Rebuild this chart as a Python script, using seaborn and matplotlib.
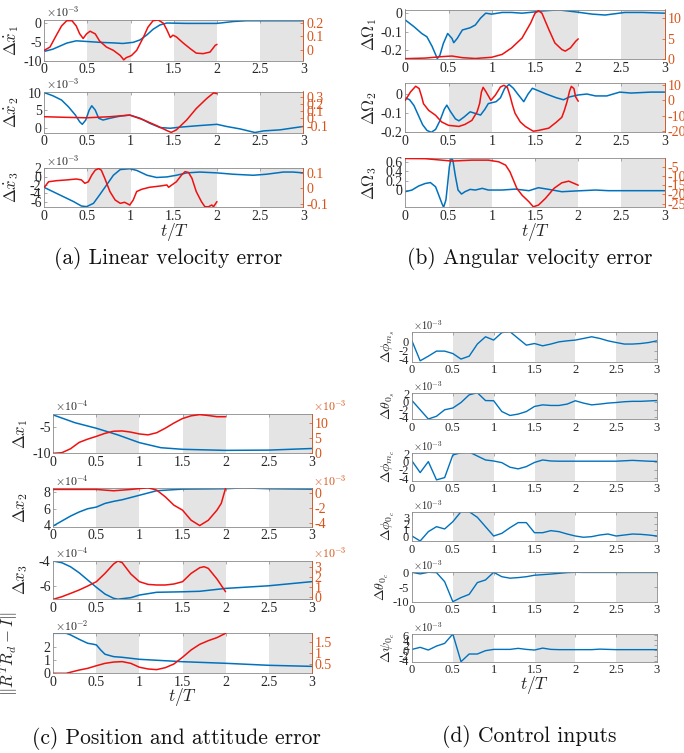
import numpy as np
import pandas as pd
import matplotlib
matplotlib.use("Agg")
import matplotlib.pyplot as plt
import seaborn as sns

# ---------------- data ----------------
XTICKS = [0, 0.5, 1, 1.5, 2, 2.5, 3]
XTICKLABELS = ["0", "0.5", "1", "1.5", "2", "2.5", "3"]
SHADED = [(0.5, 1.0), (1.5, 2.0), (2.5, 3.0)]

# (a) linear velocity error  (left: x1e-3, right: plain)
A1_BT = [0, 0.10, 0.2, 0.26, 0.37, 0.51, 0.64, 0.80, 0.91, 1.03, 1.11, 1.19, 1.26, 1.34, 1.42, 1.65, 2.0, 2.19, 2.34, 2.6, 3.0]
A1_B = [-7.6, -7.0, -6.0, -5.4, -4.8, -5.0, -5.2, -5.35, -5.5, -5.2, -4.55, -3.2, -1.75, -0.6, -0.1, -0.2, -0.2, 0.3, 0.5, 0.5, 0.5]
A1_RT = [0, 0.066, 0.14, 0.2, 0.26, 0.32, 0.37, 0.41, 0.45, 0.49, 0.53, 0.59, 0.64, 0.72, 0.80, 0.88, 0.92, 0.95, 0.99,
         1.01, 1.07, 1.15, 1.2, 1.26, 1.32, 1.38, 1.42, 1.46, 1.49, 1.53, 1.61, 1.69, 1.76, 1.84, 1.92, 1.98, 2.0]
A1_R = [-0.005, 0.02, 0.11, 0.18, 0.22, 0.22, 0.18, 0.12, 0.085, 0.12, 0.14, 0.12, 0.066, 0.02, -0.005, -0.044, -0.077, -0.06, -0.05,
        -0.044, -0.005, 0.097, 0.17, 0.22, 0.225, 0.2, 0.15, 0.092, 0.11, 0.097, 0.05, 0.008, -0.026, -0.03, -0.018, 0.033, 0.04]

A2_BT = [0, 0.1, 0.2, 0.28, 0.36, 0.41, 0.44, 0.48, 0.52, 0.55, 0.59, 0.63, 0.68, 0.76, 0.88, 0.99, 1.11, 1.22, 1.34, 1.46,
         1.57, 1.8, 2.0, 2.11, 2.27, 2.44, 2.54, 2.73, 3.0]
A2_B = [10.0, 9.1, 7.9, 6.0, 3.7, 1.8, 1.1, 2.3, 5.1, 6.3, 5.1, 2.8, 2.3, 2.8, 3.4, 3.7, 2.8, 1.4, 0.2, 0.0,
        0.3, 0.75, 1.1, 0.5, -0.2, -1.2, -0.75, -0.45, 0.5]
A2_RT = [0, 0.26, 0.49, 0.76, 0.99, 1.15, 1.3, 1.42, 1.47, 1.53, 1.65, 1.76, 1.88, 1.96, 2.0]
A2_R = [0.025, 0.016, 0.01, 0.025, 0.048, -0.02, -0.1, -0.17, -0.196, -0.16, -0.02, 0.14, 0.28, 0.36, 0.35]

A3_BT = [0, 0.1, 0.22, 0.34, 0.43, 0.49, 0.57, 0.64, 0.72, 0.8, 0.88, 0.99, 1.07, 1.19, 1.3, 1.42, 1.53, 1.65, 1.8, 2.0,
         2.19, 2.42, 2.57, 2.77, 2.88, 3.0]
A3_B = [-2.6, -3.6, -4.8, -6.0, -7.05, -7.2, -6.4, -4.4, -2.05, 0.33, 1.7, 1.9, 1.5, 0.33, -0.2, -0.07, 0.33, 0.9, 1.1, 0.9,
        0.57, 0.33, 0.57, 1.1, 1.1, 0.9]
A3_RT = [0, 0.05, 0.14, 0.26, 0.37, 0.43, 0.47, 0.51, 0.55, 0.59, 0.63, 0.66, 0.7, 0.76, 0.82, 0.88, 0.93, 0.99, 1.03, 1.07,
         1.13, 1.22, 1.34, 1.42, 1.44, 1.47, 1.53, 1.59, 1.63, 1.67, 1.71, 1.76, 1.82, 1.86, 1.9, 1.94, 1.96, 2.0]
A3_R = [0.008, 0.044, 0.051, 0.056, 0.062, 0.056, 0.034, 0.044, 0.088, 0.12, 0.13, 0.12, 0.067, -0.02, -0.075, -0.097, -0.09, -0.108, -0.075, -0.02,
        -0.005, 0.008, 0.016, 0.023, 0.008, 0.02, 0.044, 0.088, 0.11, 0.105, 0.067, -0.02, -0.086, -0.119, -0.12, -0.108, -0.119, -0.086]

# (b) angular velocity error
B1_BT = [0, 0.1, 0.19, 0.25, 0.31, 0.37, 0.4, 0.44, 0.49, 0.54, 0.56, 0.6, 0.66, 0.75, 0.81, 0.87, 0.93, 1.0, 1.12, 1.23,
         1.35, 1.46, 1.58, 1.77, 1.97, 2.16, 2.31, 2.54, 2.74, 3.0]
B1_B = [-0.037, -0.073, -0.11, -0.128, -0.18, -0.246, -0.228, -0.164, -0.11, -0.137, -0.16, -0.137, -0.091, -0.079, -0.064, -0.027, 0.0, -0.005, 0.004, 0.004,
        0.0, 0.005, 0.012, 0.018, 0.007, -0.005, -0.01, 0.004, 0.004, 0.0]
B1_RT = [0, 0.23, 0.42, 0.54, 0.66, 0.81, 1.0, 1.12, 1.23, 1.35, 1.45, 1.5, 1.54, 1.58, 1.66, 1.73, 1.81, 1.85, 1.91, 1.97, 2.0]
B1_R = [0.16, 0.3, 0.65, 0.8, 0.4, 0.2, 0.5, 1.2, 2.8, 5.2, 8.9, 11.3, 11.9, 11.3, 7.3, 4.0, 2.4, 2.0, 2.8, 4.4, 5.0]

B2_BT = [0, 0.05, 0.1, 0.15, 0.2, 0.25, 0.3, 0.35, 0.4, 0.45, 0.48, 0.52, 0.58, 0.62, 0.68, 0.75, 0.8, 0.87, 0.92, 0.96,
         1.05, 1.1, 1.15, 1.2, 1.25, 1.3, 1.37, 1.42, 1.47, 1.55, 1.63, 1.75, 1.83, 1.9, 2.0, 2.1, 2.2, 2.33, 2.48, 2.61,
         2.75, 2.84, 3.0]
B2_B = [-0.02, -0.03, -0.06, -0.11, -0.16, -0.19, -0.2, -0.185, -0.14, -0.08, -0.058, -0.09, -0.13, -0.14, -0.12, -0.093, -0.1, -0.11, -0.08, -0.05,
        -0.04, -0.02, 0.03, 0.05, 0.03, 0.0, -0.04, 0.0, 0.03, 0.015, 0.0, -0.02, -0.03, -0.015, -0.005, 0.0, -0.01, -0.01, 0.01, 0.005,
        0.008, 0.01, 0.01]
B2_RT = [0, 0.06, 0.12, 0.16, 0.19, 0.21, 0.27, 0.35, 0.42, 0.5, 0.62, 0.69, 0.77, 0.83, 0.86, 0.88, 0.9, 0.93, 0.99, 1.04,
         1.1, 1.14, 1.18, 1.21, 1.24, 1.27, 1.33, 1.39, 1.48, 1.54, 1.66, 1.75, 1.81, 1.84, 1.87, 1.9, 1.92, 1.95, 1.97, 2.0]
B2_R = [0, 5.4, 9.1, 7.6, 2.2, -2.2, -6.5, -9.7, -14, -16.2, -16.9, -15.6, -13, -7.5, -2, 5.3, 8.4, 5.8, 0, 3.2,
        8.6, 9.7, 8.4, 3.2, -3.2, -8.5, -14, -17, -20, -19.5, -18, -14, -11, -6.5, -1, 6.0, 9.0, 7.6, 2.2, -0.6]

B3_BT = [0, 0.077, 0.154, 0.23, 0.29, 0.35, 0.385, 0.424, 0.443, 0.47, 0.49, 0.51, 0.53, 0.55, 0.58, 0.61, 0.65, 0.69, 0.75, 0.81,
         0.89, 0.96, 1.12, 1.27, 1.43, 1.54, 1.66, 1.81, 1.97, 2.2, 2.35, 2.54, 3.0]
B3_B = [-0.036, 0.0, 0.086, 0.14, 0.16, 0.07, -0.1, -0.29, -0.37, -0.21, 0.14, 0.5, 0.68, 0.64, 0.29, 0.0, -0.086, -0.036, 0.014, 0.0,
        0.036, 0.0, 0.0, 0.02, -0.014, 0.05, 0.014, -0.036, -0.02, 0.0, -0.014, -0.014, -0.014]
B3_RT = [0, 0.23, 0.42, 0.54, 0.77, 0.96, 1.08, 1.16, 1.21, 1.25, 1.29, 1.35, 1.43, 1.48, 1.54, 1.62, 1.72, 1.81, 1.89, 1.95, 2.0]
B3_R = [-0.5, -0.6, -1.4, -1.9, -1.4, -1.4, -2.3, -4.1, -7.7, -12.2, -16.7, -20.4, -24, -26.7, -25.8, -22.2, -16.7, -13.7, -12.8, -14, -15]

# (c) position and attitude error
C1_BT = [0, 0.25, 0.5, 0.75, 1.0, 1.25, 1.5, 2.0, 2.5, 3.0]
C1_B = [-2.8, -4.25, -5.3, -6.55, -8.0, -8.95, -9.25, -9.45, -9.4, -9.1]
C1_RT = [0, 0.1, 0.2, 0.3, 0.4, 0.5, 0.6, 0.7, 0.8, 0.9, 1.0, 1.1, 1.2, 1.3, 1.4, 1.5, 1.6, 1.7, 1.8, 1.9, 2.0]
C1_R = [0, 0.2, 1.5, 3.6, 4.7, 5.6, 6.6, 7.3, 7.4, 7.0, 6.4, 6.1, 6.8, 8.3, 10.0, 11.5, 12.4, 12.8, 12.5, 12.1, 12.1]

C2_BT = [0, 0.1, 0.2, 0.3, 0.4, 0.5, 0.6, 0.7, 0.8, 1.0, 1.2, 1.5, 2.0, 2.2, 2.5, 3.0]
C2_B = [3.9, 4.5, 5.1, 5.6, 6.0, 6.2, 6.65, 6.9, 7.1, 7.65, 8.2, 8.4, 8.45, 8.55, 8.45, 8.4]
C2_RT = [0, 0.5, 0.7, 0.9, 1.1, 1.2, 1.3, 1.4, 1.5, 1.6, 1.7, 1.8, 1.9, 1.95, 2.0]
C2_R = [0.45, 0.45, 0.27, 0.45, 0.67, 0.36, -0.53, -1.64, -2.3, -3.64, -4.35, -3.64, -2.3, -1.4, 0.6]

C3_BT = [0, 0.1, 0.2, 0.3, 0.4, 0.5, 0.6, 0.7, 0.75, 0.9, 1.0, 1.2, 1.5, 1.7, 2.0, 2.5, 3.0]
C3_B = [-4.0, -4.14, -4.46, -4.94, -5.52, -6.1, -6.64, -6.98, -7.05, -6.93, -6.72, -6.5, -6.46, -6.42, -6.19, -5.98, -5.65]
C3_RT = [0, 0.1, 0.2, 0.3, 0.4, 0.5, 0.6, 0.7, 0.75, 0.8, 0.9, 1.0, 1.1, 1.2, 1.3, 1.4, 1.5, 1.6, 1.7, 1.75, 1.8, 1.9, 2.0]
C3_R = [-0.26, 0, 0.33, 0.67, 1.07, 1.5, 2.33, 3.27, 3.57, 3.4, 2.27, 1.5, 1.23, 1.17, 1.17, 1.27, 1.5, 2.33, 2.9, 3.0, 2.83, 1.77, 0.5]

C4_BT = [0, 0.15, 0.2, 0.3, 0.4, 0.45, 0.5, 0.55, 0.6, 0.7, 0.8, 1.0, 1.5, 2.0, 2.5, 3.0]
C4_B = [3.0, 3.0, 2.88, 2.55, 2.25, 2.2, 2.13, 1.75, 1.43, 1.25, 1.2, 1.05, 0.87, 0.75, 0.6, 0.52]
C4_RT = [0, 0.15, 0.3, 0.4, 0.5, 0.6, 0.7, 0.8, 0.9, 1.0, 1.1, 1.2, 1.3, 1.4, 1.5, 1.6, 1.7, 1.8, 1.9, 2.0]
C4_R = [0.07, 0.07, 0.22, 0.3, 0.42, 0.53, 0.59, 0.61, 0.53, 0.35, 0.27, 0.24, 0.33, 0.5, 0.81, 1.15, 1.41, 1.58, 1.72, 1.92]

# (d) control inputs (x1e-3), sampled every 0.1
D_T = [0.0, 0.1, 0.2, 0.3, 0.4, 0.5, 0.6, 0.7, 0.8, 0.9, 1.0, 1.1, 1.2, 1.3, 1.4, 1.5,
       1.6, 1.7, 1.8, 1.9, 2.0, 2.1, 2.2, 2.3, 2.4, 2.5, 2.6, 2.7, 2.8, 2.9, 3.0]
D1 = [0.2, -4.3, -3.25, -2.1, -2.1, -2.65, -3.9, -3.25, -0.5, 1.15, 0.4, 2.1, 2.3, 0.77, -0.75, -0.38,
      -0.9, -0.5, 0.0, 0.23, 0.4, 0.77, 1.15, 0.77, 0.23, -0.15, -0.5, -0.5, -0.38, -0.15, 0.23]
D2 = [0.3, -2.05, -4.4, -3.7, -2.05, -1.6, -0.2, 1.75, 2.3, 0.3, 0.25, -2.5, -3.5, -3.15, -2.5, -1.2,
      -0.8, -0.95, -0.95, -0.6, 0.25, -0.35, -0.8, -0.6, -0.35, -0.2, 0.0, 0.1, 0.1, 0.2, 0.3]
D3 = [0.15, -2.65, 0.0, -4.4, -3.85, 1.6, 2.15, 2.3, 1.35, 0.4, 0.15, -0.25, -1.35, -1.75, -1.2, -0.2,
      0.4, 0.15, 0.1, 0.1, 0.1, 0.1, 0.1, 0.1, 0.1, 0.1, 0.2, 0.3, 0.2, 0.1, 0.05]
D4 = [0.0, -0.8, 0.7, 1.5, 1.13, 2.3, 3.9, 3.9, 3.0, 1.5, 0.0, 0.43, 1.34, 2.15, 2.15, 0.53,
      0.53, 0.86, 0.7, 0.32, 0.0, -0.2, -0.1, 0.16, 0.32, 0.0, 0.16, 0.32, 0.27, 0.16, 0.0]
D5 = [0.0, -0.55, 0.0, -0.1, -3.2, -10.0, -8.6, -7.5, -3.5, -2.6, 0.0, -1.5, -2.0, -1.8, -1.5, -1.0,
      -0.8, -0.6, -0.35, -0.1, 0.0, -0.05, -0.05, -0.05, -0.05, -0.05, -0.05, -0.05, -0.05, -0.05, -0.05]
D6 = [0.4, 1.2, 0.15, 1.7, 2.75, 6.4, -4.4, -1.4, -1.4, -0.1, 0.4, 0.4, 0.4, 0.8, 0.4, 0.15,
      0.9, 0.4, 0.3, 0.3, 0.3, 0.3, 0.3, 0.5, 0.4, 0.3, 0.3, 0.3, 0.3, 0.3, 0.3]

# ---------------- style ----------------
sns.set_theme(style="white")
plt.rcParams["font.family"] = ["Liberation Serif", "DejaVu Serif"]
plt.rcParams["mathtext.fontset"] = "cm"
plt.rcParams["axes.unicode_minus"] = False

BLUE = "#0072BD"
RED = "#F01010"
ORANGE = "#D95319"
GRAY = "#E4E4E4"
SPINE = "#8a8a8a"
TXT = "#262626"

W, H = 684, 753
fig = plt.figure(figsize=(W / 100, H / 100), dpi=100)


def add_ax(x0, x1, y0, y1):
    return fig.add_axes([x0 / W, 1 - y1 / H, (x1 - x0) / W, (y1 - y0) / H])


def fmt(v):
    return f"{v:g}"


def base_axes(rect, ylim, yticks, ylabel, lab_x, fs, lfs, mult=None):
    ax = add_ax(*rect)
    for a, b in SHADED:
        ax.axvspan(a, b, color=GRAY, lw=0, zorder=0)
    ax.set_xlim(0, 3)
    ax.set_ylim(*ylim)
    ax.set_xticks(XTICKS)
    ax.set_xticklabels(XTICKLABELS, fontsize=fs, color=TXT)
    ax.set_yticks(yticks)
    ax.set_yticklabels([fmt(v) for v in yticks], fontsize=fs, color=TXT)
    ax.tick_params(direction="in", length=2.5, width=0.5, color=SPINE, pad=2,
                   top=True, right=True)
    for s in ax.spines.values():
        s.set_color(SPINE)
        s.set_linewidth(0.6)
        s.set_visible(True)
    ax.set_ylabel(ylabel, fontsize=lfs, color=TXT)
    ax.yaxis.set_label_coords(lab_x, 0.5)
    ax.set_xlabel("")
    if mult:
        ax.text(0.005, 1.0, mult, transform=ax.transAxes, fontsize=fs - 1.5,
                ha="left", va="bottom", color=TXT)
    return ax


def add_right(ax, ylim, yticks, fs, mult=None):
    ax2 = ax.twinx()
    ax2.set_ylim(*ylim)
    ax2.set_yticks(yticks)
    ax2.set_yticklabels([fmt(v) for v in yticks], fontsize=fs, color=ORANGE)
    ax2.tick_params(direction="in", length=2.5, width=0.5, color=ORANGE, pad=2)
    for k, s in ax2.spines.items():
        s.set_visible(k == "right")
    ax2.spines["right"].set_color(ORANGE)
    ax2.spines["right"].set_linewidth(0.6)
    ax.tick_params(right=False)
    if mult:
        ax2.text(1.005, 1.0, mult, transform=ax2.transAxes, fontsize=fs - 1.5,
                 ha="left", va="bottom", color=ORANGE)
    return ax2


def line(ax, t, v, color, lw=1.1):
    sns.lineplot(x=list(t), y=list(v), ax=ax, color=color, lw=lw, legend=False,
                 estimator=None, sort=False)
    ax.set_xlabel("")
    ax.set_ylabel(ax.get_ylabel())


FS = 10
LFS = 12
M3 = r"$\times10^{-3}$"
M4 = r"$\times10^{-4}$"
M2 = r"$\times10^{-2}$"

# ----- panel (a) -----
ax = base_axes((44.3, 303.3, 20, 60.5), (-10, 0.7), [-10, -5, 0], r"$\Delta\dot{x}_1$", -0.09, FS, LFS, M3)
line(ax, A1_BT, A1_B, BLUE)
ax2 = add_right(ax, (-0.082, 0.225), [0, 0.1, 0.2], FS)
line(ax2, A1_RT, A1_R, RED)

ax = base_axes((44.3, 303.3, 91.5, 132.7), (-1.25, 10.3), [0, 5, 10], r"$\Delta\dot{x}_2$", -0.09, FS, LFS, M3)
line(ax, A2_BT, A2_B, BLUE)
ax2 = add_right(ax, (-0.2, 0.38), [-0.1, 0, 0.1, 0.2, 0.3], FS)
line(ax2, A2_RT, A2_R, RED)

ax = base_axes((44.3, 303.3, 168.3, 207.3), (-7.36, 1.93), [-6, -4, -2, 0, 2], r"$\Delta\dot{x}_3$", -0.09, FS, LFS, M3)
line(ax, A3_BT, A3_B, BLUE)
ax2 = add_right(ax, (-0.123, 0.132), [-0.1, 0, 0.1], FS)
line(ax2, A3_RT, A3_R, RED)

# ----- panel (b) -----
ax = base_axes((405.3, 664.7, 9.5, 59.3), (-0.25, 0.02), [-0.2, -0.1, 0], r"$\Delta\Omega_1$", -0.1, FS, LFS)
line(ax, B1_BT, B1_B, BLUE)
ax2 = add_right(ax, (0, 12.2), [0, 5, 10], FS)
line(ax2, B1_RT, B1_R, RED)

ax = base_axes((405.3, 664.7, 83.3, 132.3), (-0.2, 0.056), [-0.2, -0.1, 0], r"$\Delta\Omega_2$", -0.1, FS, LFS)
line(ax, B2_BT, B2_B, BLUE)
ax2 = add_right(ax, (-20.7, 11.0), [-20, -10, 0, 10], FS)
line(ax2, B2_RT, B2_R, RED)

ax = base_axes((405.3, 664.7, 158.3, 207.3), (-0.37, 0.68), [0, 0.2, 0.4, 0.6], r"$\Delta\Omega_3$", -0.1, FS, LFS)
line(ax, B3_BT, B3_B, BLUE)
ax2 = add_right(ax, (-27.0, -0.4), [-25, -20, -15, -10, -5], FS)
line(ax2, B3_RT, B3_R, RED)

# ----- panel (c) -----
ax = base_axes((53.3, 311.7, 414, 453.3), (-10, -2.62), [-10, -5], r"$\Delta x_1$", -0.09, FS, LFS, M4)
line(ax, C1_BT, C1_B, BLUE)
ax2 = add_right(ax, (0, 13), [0, 5, 10], FS, M3)
line(ax2, C1_RT, C1_R, RED)

ax = base_axes((53.3, 311.7, 488.3, 526.7), (3.8, 8.5), [4, 6, 8], r"$\Delta x_2$", -0.09, FS, LFS, M4)
line(ax, C2_BT, C2_B, BLUE)
ax2 = add_right(ax, (-4.5, 0.6), [-4, -2, 0], FS, M3)
line(ax2, C2_RT, C2_R, RED)

ax = base_axes((53.3, 311.7, 561, 599.3), (-7.06, -4.0), [-6, -4], r"$\Delta x_3$", -0.09, FS, LFS, M4)
line(ax, C3_BT, C3_B, BLUE)
ax2 = add_right(ax, (-0.26, 3.57), [0, 1, 2, 3], FS, M3)
line(ax2, C3_RT, C3_R, RED)

ax = base_axes((53.3, 311.7, 633.3, 673.3), (0, 3.0), [0, 1, 2], r"$\|R^T R_d - I\|$", -0.13, FS, LFS, M2)
line(ax, C4_BT, C4_B, BLUE)
ax2 = add_right(ax, (0.07, 1.92), [0.5, 1, 1.5], FS)
line(ax2, C4_RT, C4_R, RED)

# ----- panel (d) -----
DFS = 9
DLFS = 10
d_specs = [
    ((412, 657, 331.7, 361.7), (-4.5, 2.3), [-4, -2, 0], r"$\Delta\phi_{m_s}$", -0.06, D1),
    ((412, 657, 392.7, 419.0), (-4.4, 2.3), [-4, -2, 0, 2], r"$\Delta\theta_{0_s}$", -0.06, D2),
    ((412, 657, 452.7, 480.7), (-4.6, 2.15), [-4, -2, 0, 2], r"$\Delta\phi_{m_c}$", -0.06, D3),
    ((412, 657, 511.7, 541.0), (-0.8, 3.9), [0, 1, 2, 3], r"$\Delta\phi_{0_c}$", -0.06, D4),
    ((412, 657, 572.3, 601.7), (-10, 0.0), [-10, -5, 0], r"$\Delta\theta_{0_c}$", -0.085, D5),
    ((412, 657, 634.0, 661.7), (-4.4, 6.4), [-4, -2, 0, 2, 4, 6], r"$\Delta\psi_{0_c}$", -0.06, D6),
]
for rect, yl, yt, lab, lx, vals in d_specs:
    ax = base_axes(rect, yl, yt, lab, lx, DFS, DLFS, M3)
    line(ax, D_T, vals, BLUE, lw=1.0)

# ----- axis titles and captions -----
for x, y in [(175, 231.7), (535.3, 231.7), (183, 696.7), (535, 685)]:
    fig.text(x / W, 1 - y / H, r"$t/T$", fontsize=12.5, ha="center", va="center", color=TXT)

CAPTIONS = ["(a) Linear velocity error", "(b) Angular velocity error",
            "(c) Position and attitude error", "(d) Control inputs"]
for (x, y), cap in zip([(168, 259), (529.5, 259), (176.7, 738), (529.5, 736.7)], CAPTIONS):
    fig.text(x / W, 1 - y / H, cap, fontsize=15.5, family="cmr10", ha="center", va="center", color="#111111")

fig.savefig("out.png", dpi=100)
